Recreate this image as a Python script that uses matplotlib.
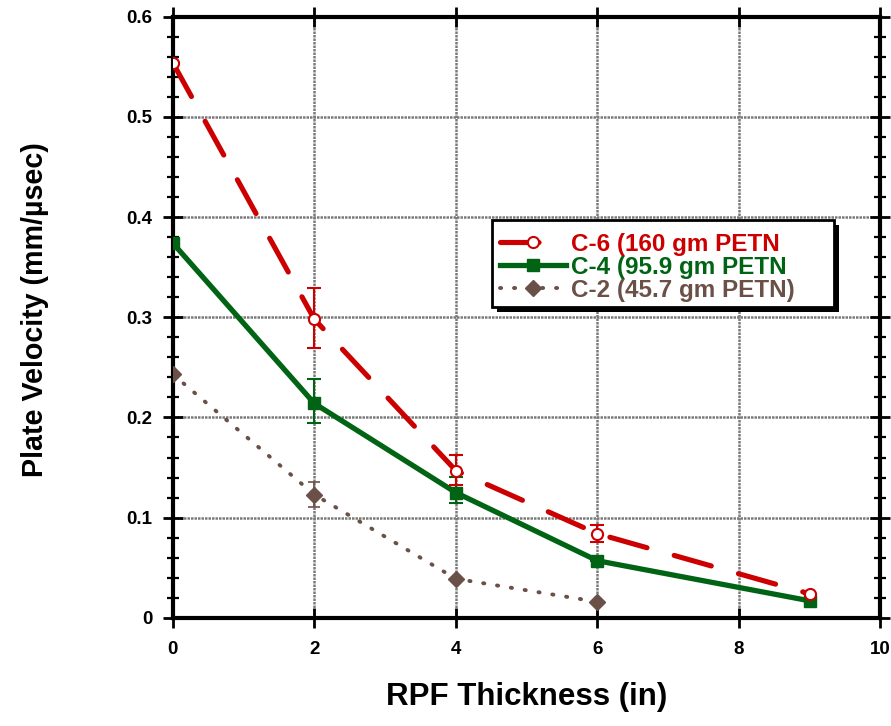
import matplotlib
matplotlib.use("Agg")
import matplotlib.pyplot as plt
from matplotlib.ticker import MultipleLocator
from matplotlib.patches import Rectangle
from matplotlib.transforms import IdentityTransform

x6 = [0, 2, 4, 6, 9]
c6 = [0.554, 0.298, 0.147, 0.084, 0.024]
c6_lo = [0, 0.029, 0.014, 0.008, 0]
c6_hi = [0, 0.031, 0.016, 0.009, 0]

x4 = [0, 2, 4, 6, 9]
c4 = [0.374, 0.214, 0.125, 0.057, 0.017]
c4_lo = [0, 0.020, 0.010, 0, 0]
c4_hi = [0, 0.024, 0.016, 0, 0]

x2 = [0, 2, 4, 6]
c2 = [0.243, 0.123, 0.039, 0.016]
c2_lo = [0, 0.012, 0, 0]
c2_hi = [0, 0.013, 0, 0]

labels = ["C-6 (160 gm PETN", "C-4 (95.9 gm PETN", "C-2 (45.7 gm PETN)"]
xticks = [0, 2, 4, 6, 8, 10]
yticks = [0, 0.1, 0.2, 0.3, 0.4, 0.5, 0.6]
yticklabels = ['0', '0.1', '0.2', '0.3', '0.4', '0.5', '0.6']
red, green, brown = "#CC0000", "#006414", "#6B5048"

plt.rcParams['font.family'] = ['Liberation Sans', 'DejaVu Sans']
fig = plt.figure(figsize=(8.91, 7.26), dpi=100)
ax = fig.add_axes([0.194, 0.149, 0.794, 0.828])

e2 = ax.errorbar(x2, c2, yerr=[c2_lo, c2_hi], color=brown, ls=(0, (0.3, 3.3)), lw=2.8,
                 dash_capstyle='round', marker='D', ms=8, mfc=brown, mec=brown,
                 elinewidth=1.2, capsize=4, capthick=1.2, zorder=3)
e4 = ax.errorbar(x4, c4, yerr=[c4_lo, c4_hi], color=green, ls='-', lw=3.8,
                 marker='s', ms=9, mfc=green, mec=green,
                 elinewidth=1.5, capsize=5, capthick=1.5, zorder=4)
e6 = ax.errorbar(x6, c6, yerr=[c6_lo, c6_hi], color=red, ls=(0, (7.5, 5.5)), lw=3.7,
                 dash_capstyle='round', marker='o', ms=8, mfc='white', mec=red, mew=1.5,
                 elinewidth=1.5, capsize=5, capthick=1.5, zorder=5)

ax.set_xlim(0, 10)
ax.set_ylim(0, 0.6)
ax.yaxis.set_minor_locator(MultipleLocator(0.02))
ax.set_yticks(yticks)
ax.set_yticklabels(yticklabels, fontweight='bold')
ax.set_xticks(xticks)
ax.set_xticklabels([str(v) for v in xticks], fontweight='bold')
ax.grid(True, which='major', color='#7a7a7a', lw=1.8, ls=(0, (1, 0.4)))
ax.tick_params(axis='both', which='major', direction='inout', length=15, width=2,
               labelsize=13.5, top=True, right=True, pad=7)
ax.tick_params(axis='y', which='minor', direction='inout', length=8, width=1.6, right=True)
ax.tick_params(axis='x', which='major', pad=9)
for s in ax.spines.values():
    s.set_linewidth(3)
ax.set_xlabel("RPF Thickness (in)", fontsize=22.5, fontweight='bold')
ax.set_ylabel("Plate Velocity (mm/µsec)", fontsize=20.6, fontweight='bold')
ax.xaxis.set_label_coords(0.5, -0.107)
ax.yaxis.set_label_coords(-0.1745, 0.512)

leg = ax.legend([e6[0], e4[0], e2[0]], labels, loc='upper left',
                bbox_to_anchor=(0.451, 0.655), borderaxespad=0, fontsize=17.5,
                frameon=False, handlelength=2.7, handletextpad=0.2,
                borderpad=0.35, labelspacing=0.0)
leg.set_zorder(10)
for t, c in zip(leg.get_texts(), [red, green, brown]):
    t.set_color(c)
    t.set_fontweight('bold')

fig.canvas.draw()
bb = leg.get_window_extent(fig.canvas.get_renderer())
x0, y0 = bb.x0, bb.y0 + 3
w, h = bb.width + 31, bb.height + 1
ax.add_patch(Rectangle((x0 + 5, y0 - 5), w, h, transform=IdentityTransform(),
                       facecolor='black', edgecolor='black', lw=0, zorder=9))
ax.add_patch(Rectangle((x0, y0), w, h, transform=IdentityTransform(),
                       facecolor='white', edgecolor='black', lw=2, zorder=9.5))

fig.savefig("out.png", dpi=100)
